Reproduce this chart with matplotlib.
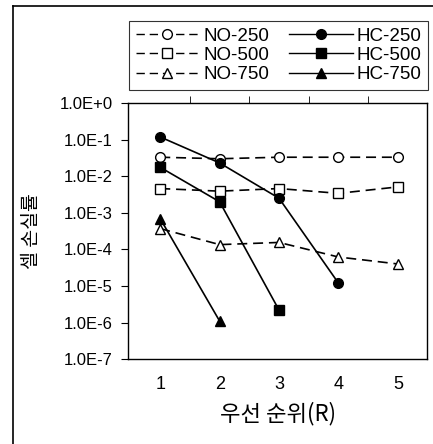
import numpy as np
import matplotlib.pyplot as plt
from matplotlib.ticker import FixedLocator
from matplotlib.lines import Line2D

#===========================================================
#               data
#===========================================================
a_r = [1, 2, 3, 4, 5]

no_250 = [3.3e-2, 3.0e-2, 3.3e-2, 3.3e-2, 3.3e-2]
no_500 = [4.6e-3, 3.9e-3, 4.6e-3, 3.4e-3, 5.1e-3]
no_750 = [3.7e-4, 1.35e-4, 1.55e-4, 6.2e-5, 4.0e-5]

hc_r250 = [1, 2, 3, 4]
hc_250 = [1.18e-1, 2.3e-2, 2.5e-3, 1.2e-5]
hc_r500 = [1, 2, 3]
hc_500 = [1.75e-2, 2.0e-3, 2.2e-6]
hc_r750 = [1, 2]
hc_750 = [6.9e-4, 1.1e-6]

y_ticks = [1e0, 1e-1, 1e-2, 1e-3, 1e-4, 1e-5, 1e-6, 1e-7]
y_labels = ['1.0E+0', '1.0E-1', '1.0E-2', '1.0E-3', '1.0E-4',
            '1.0E-5', '1.0E-6', '1.0E-7']

#===========================================================
#               plot
#===========================================================
plt.rcParams['font.family'] = ['Liberation Sans', 'Noto Sans CJK KR', 'DejaVu Sans']

fig = plt.figure(figsize=(4.33, 4.44), dpi=100)
ax = fig.add_axes([0.296, 0.191, 0.690, 0.577])

kw_no = dict(color='k', ls=(0, (6, 3.5)), lw=1.2, ms=7, mfc='white', mew=1.0)
kw_hc = dict(color='k', ls='-', lw=1.2, ms=7, mfc='k', mew=1.0)

l1, = ax.plot(a_r, no_250, marker='o', label='NO-250', **kw_no)
l2, = ax.plot(a_r, no_500, marker='s', label='NO-500', **kw_no)
l3, = ax.plot(a_r, no_750, marker='^', label='NO-750', **kw_no)
l4, = ax.plot(hc_r250, hc_250, marker='o', label='HC-250', **kw_hc)
l5, = ax.plot(hc_r500, hc_500, marker='s', label='HC-500', **kw_hc)
l6, = ax.plot(hc_r750, hc_750, marker='^', label='HC-750', **kw_hc)

ax.set_yscale('log')
ax.set_ylim(1e-7, 1e0)
ax.set_xlim(0.46, 5.49)
ax.set_yticks(y_ticks)
ax.set_yticklabels(y_labels)
ax.yaxis.set_minor_locator(FixedLocator([]))
ax.tick_params(axis='y', direction='out', length=5, labelsize=12, pad=6)

ax.set_xticks(a_r)
ax.xaxis.set_minor_locator(FixedLocator([1.5, 2.5, 3.5, 4.5]))
ax.tick_params(axis='x', which='major', length=0, labelsize=13, pad=12)
ax.tick_params(axis='x', which='minor', bottom=False, top=True,
               direction='out', length=5)

for s in ax.spines.values():
    s.set_linewidth(1.0)

ax.set_xlabel('우선 순위(R)', fontsize=16,
              family=['Noto Sans CJK KR', 'DejaVu Sans'])
ax.xaxis.set_label_coords(0.5, -0.165)
ax.set_ylabel('셀 손실률', fontsize=14,
              family=['Noto Sans CJK KR', 'DejaVu Sans'])
ax.yaxis.set_label_coords(-0.29, 0.5)

leg = fig.legend(handles=[l1, l2, l3, l4, l5, l6], ncol=2,
                 loc='upper left', bbox_to_anchor=(0.298, 0.953, 0.690, 0.0),
                 mode='expand', fontsize=13.5, handlelength=3.4,
                 borderaxespad=0, borderpad=0.35, labelspacing=0.12,
                 columnspacing=1.0, handletextpad=0.2,
                 fancybox=False, frameon=True)
leg.get_frame().set_edgecolor('k')
leg.get_frame().set_linewidth(0.8)
for h in leg.legend_handles:
    h.set_linewidth(1.0)
    h.set_markersize(7)

# outer frame lines (left and top)
fig.add_artist(Line2D([13 / 433, 13 / 433], [0, 1 - 6 / 444], color='k', lw=1.2))
fig.add_artist(Line2D([13 / 433, 1], [1 - 6 / 444, 1 - 6 / 444], color='k', lw=1.2))

fig.savefig('out.png', dpi=100)
